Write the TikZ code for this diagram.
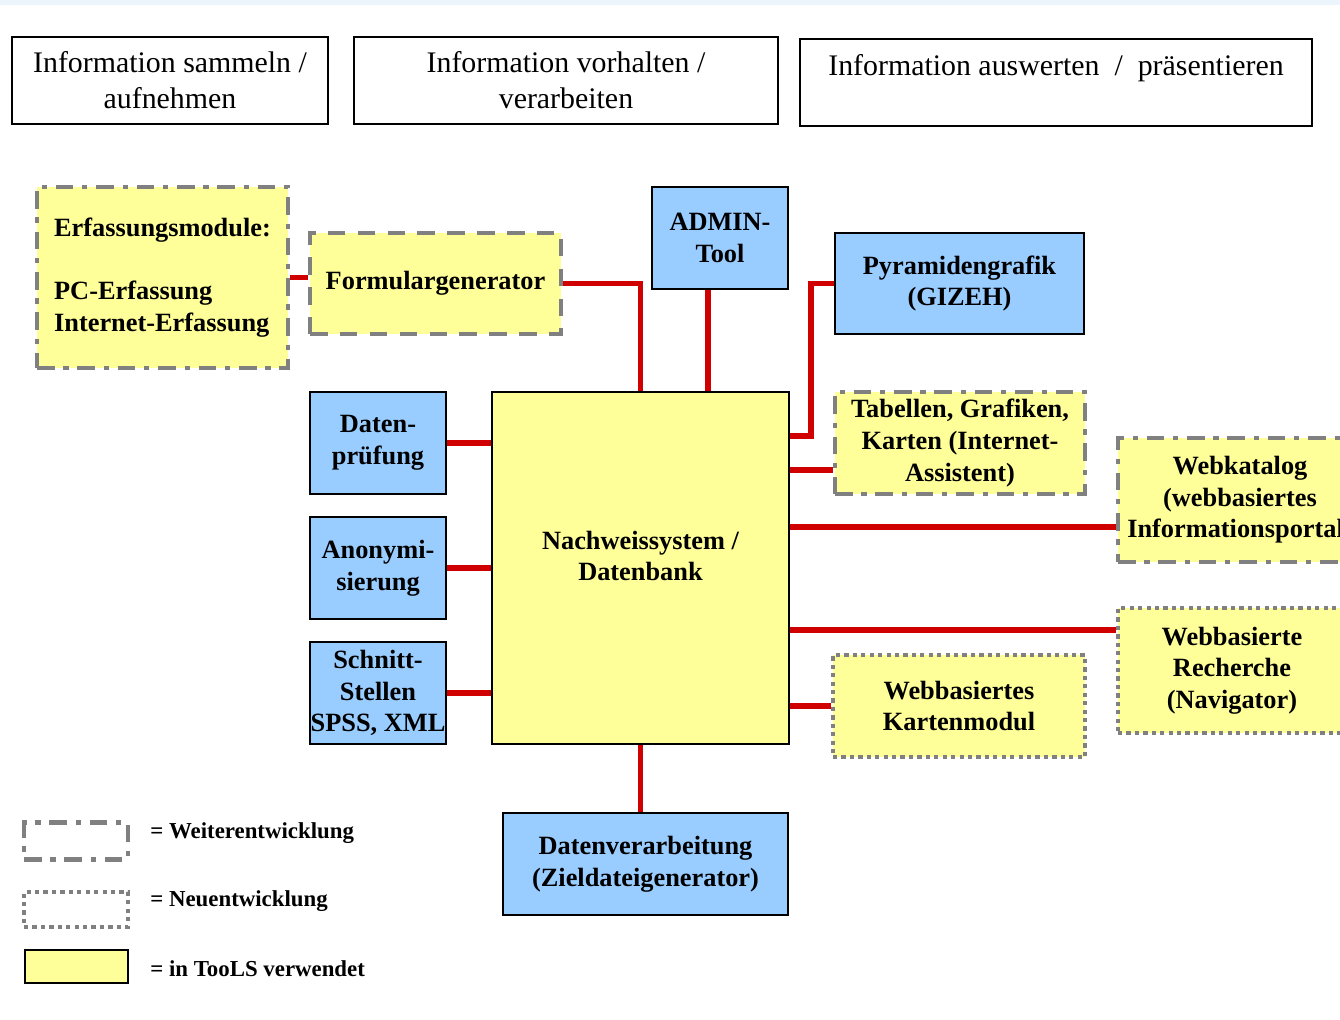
\documentclass[tikz,border=0pt]{standalone}
\usepackage{fontspec}
\setmainfont{Liberation Serif}
\definecolor{toolsgelb}{RGB}{255,255,153}
\definecolor{toolsblau}{RGB}{153,204,255}
\definecolor{linkrot}{RGB}{208,0,0}
\definecolor{randgrau}{RGB}{128,128,128}
\definecolor{streifen}{RGB}{236,245,252}
\begin{document}
\begin{tikzpicture}[x=0.02cm,y=-0.02cm,
    every node/.style={inner sep=0pt, align=center, font=\bfseries\fontsize{15}{18}\selectfont},
    kopf/.style={draw=black, line width=0.9pt, font=\fontsize{17}{20.4}\selectfont},
    blau/.style={draw=black, line width=0.8pt, fill=toolsblau},
    weiter/.style={fill=toolsgelb, draw=randgrau, line width=2.8pt, dash pattern=on 10pt off 5pt on 3pt off 5pt},
    gestrichelt/.style={fill=toolsgelb, draw=randgrau, line width=2.8pt, dash pattern=on 10pt off 7pt},
    neu/.style={fill=toolsgelb, draw=randgrau, line width=2.4pt, dash pattern=on 2.4pt off 2.4pt},
    link/.style={draw=linkrot, line width=3.4pt}]
    \useasboundingbox (0,0) rectangle (1340,1020);
    \clip (0,0) rectangle (1340,1020);
    \fill [streifen] (0,0) rectangle (1340,5);
    % Kopfzeile
    \node [kopf, minimum width=6.32cm, minimum height=1.74cm] (sammeln) at (170,80.5) {Information sammeln /\\aufnehmen};
    \node [kopf, minimum width=8.48cm, minimum height=1.74cm] (vorhalten) at (566,80.5) {Information vorhalten /\\verarbeiten};
    \node [kopf, minimum width=10.24cm, minimum height=1.74cm] (auswerten) at (1056,82.5) {Information auswerten\ \ /\ \ präsentieren\\\mbox{}};
    % Module
    \node [weiter, align=left, minimum width=5.02cm, minimum height=3.62cm] (erfassung) at (162.5,277.5) {Erfassungsmodule:\\[18pt]PC-Erfassung\\Internet-Erfassung};
    \node [gestrichelt, minimum width=5.02cm, minimum height=2.02cm] (formular) at (435.5,283.5) {Formulargenerator};
    \node [blau, minimum width=2.72cm, minimum height=2.04cm] (admin) at (720,238) {ADMIN-\\Tool};
    \node [blau, minimum width=4.98cm, minimum height=2.02cm] (pyramide) at (959.5,283.5) {Pyramidengrafik\\(GIZEH)};
    \node [draw=black, line width=0.8pt, fill=toolsgelb, minimum width=5.94cm, minimum height=7.04cm] (datenbank) at (640.5,568) {Nachweissystem /\\Datenbank\\[-4pt]\mbox{}};
    \node [weiter, minimum width=5.0cm, minimum height=2.04cm] (tabellen) at (960,443) {Tabellen, Grafiken,\\Karten (Internet-\\Assistent)};
    \node [weiter, minimum width=4.88cm, minimum height=2.48cm] (webkatalog) at (1240,500) {Webkatalog\\(webbasiertes\\Informationsportal)};
    \node [neu, minimum width=4.56cm, minimum height=2.5cm] (recherche) at (1232,670.5) {Webbasierte\\Recherche\\(Navigator)};
    \node [neu, minimum width=5.04cm, minimum height=2.04cm] (kartenmodul) at (959,706) {Webbasiertes\\Kartenmodul};
    \node [blau, minimum width=2.72cm, minimum height=2.04cm] (pruefung) at (378,443) {Daten-\\prüfung};
    \node [blau, minimum width=2.72cm, minimum height=2.04cm] (anonym) at (378,568) {Anonymi-\\sierung};
    \node [blau, minimum width=2.72cm, minimum height=2.04cm] (schnitt) at (378,693) {Schnitt-\\Stellen\\SPSS, XML};
    \node [blau, minimum width=5.7cm, minimum height=2.04cm] (verarbeitung) at (645.5,864) {Datenverarbeitung\\(Zieldateigenerator)};
    % Verbindungen
    \draw [link] (erfassung.east) -- (erfassung.east -| formular.west);
    \draw [link] (formular.east) -| (datenbank.north);
    \draw [link] ([xshift=-0.24cm]admin.south) -- ([xshift=-0.24cm]admin.south |- datenbank.north);
    \draw [link] ([yshift=-0.9cm]datenbank.north east) -| ([xshift=-0.46cm]pyramide.west) -- (pyramide.west);
    \draw [link] ([yshift=-0.54cm]tabellen.west) -- ([yshift=-0.54cm]tabellen.west -| datenbank.east);
    \draw [link] ([yshift=-0.54cm]webkatalog.west) -- ([yshift=-0.54cm]webkatalog.west -| datenbank.east);
    \draw [link] ([yshift=0.81cm]recherche.west) -- ([yshift=0.81cm]recherche.west -| datenbank.east);
    \draw [link] (kartenmodul.west) -- (kartenmodul.west -| datenbank.east);
    \draw [link] (pruefung.east) -- (pruefung.east -| datenbank.west);
    \draw [link] (anonym.east) -- (anonym.east -| datenbank.west);
    \draw [link] (schnitt.east) -- (schnitt.east -| datenbank.west);
    \draw [link] (datenbank.south) -- (datenbank.south |- verarbeitung.north);
    % Legende
    \node [weiter, fill=none, minimum width=2.08cm, minimum height=0.74cm] (legweiter) at (76,841) {};
    \node [neu, fill=none, minimum width=2.08cm, minimum height=0.7cm] (legneu) at (76,909.5) {};
    \node [draw=black, line width=0.9pt, fill=toolsgelb, minimum width=2.06cm, minimum height=0.66cm] (legtools) at (76.5,966.5) {};
    \node [anchor=west, font=\bfseries\fontsize{13}{15}\selectfont] (txtweiter) at (150,833) {= Weiterentwicklung};
    \node [anchor=west, font=\bfseries\fontsize{13}{15}\selectfont] (txtneu) at (150,901) {= Neuentwicklung};
    \node [anchor=west, font=\bfseries\fontsize{13}{15}\selectfont] (txttools) at (150,969) {= in TooLS verwendet};
\end{tikzpicture}
\end{document}
